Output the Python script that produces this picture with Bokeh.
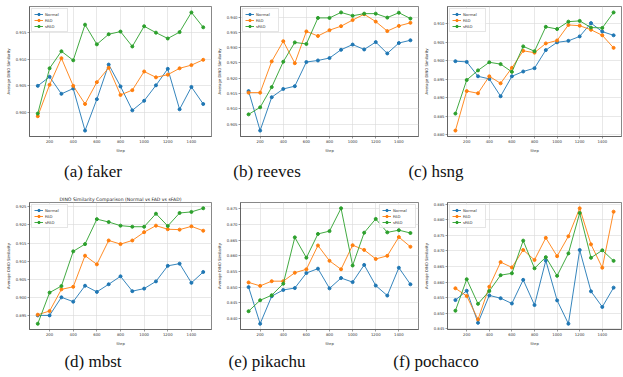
from bokeh.plotting import figure
from bokeh.layouts import column, row
from bokeh.models import Range1d, FixedTicker, SingleIntervalTicker, NumeralTickFormatter, Label
from bokeh.embed import file_html
from bokeh.resources import INLINE

steps = [100, 200, 300, 400, 500, 600, 700, 800, 900, 1000, 1100, 1200, 1300, 1400, 1500]
x_ticks = [200, 400, 600, 800, 1000, 1200, 1400]
series_names = ["Normal", "FAD", "sFAD"]
captions = ["(a) faker", "(b) reeves", "(c) hsng", "(d) mbst", "(e) pikachu", "(f) pochacco"]
title_d = "DINO Similarity Comparison (Normal vs FAD vs sFAD)"

faker_normal = [0.9050, 0.9067, 0.9035, 0.9045, 0.8966, 0.9025, 0.9090, 0.9049, 0.9004, 0.9022, 0.9051, 0.9082, 0.9006, 0.9048, 0.9016]
faker_fad = [0.8993, 0.9052, 0.9102, 0.9050, 0.9016, 0.9057, 0.9084, 0.9033, 0.9042, 0.9077, 0.9066, 0.9071, 0.9083, 0.9089, 0.9099]
faker_sfad = [0.8998, 0.9083, 0.9115, 0.9098, 0.9165, 0.9128, 0.9147, 0.9152, 0.9124, 0.9162, 0.9150, 0.9139, 0.9151, 0.9188, 0.9160]

reeves_normal = [0.9158, 0.9029, 0.9138, 0.9165, 0.9174, 0.9253, 0.9258, 0.9266, 0.9293, 0.9310, 0.9294, 0.9318, 0.9281, 0.9315, 0.9324]
reeves_fad = [0.9153, 0.9153, 0.9255, 0.9321, 0.9249, 0.9353, 0.9338, 0.9357, 0.9370, 0.9390, 0.9409, 0.9385, 0.9354, 0.9371, 0.9381]
reeves_sfad = [0.9082, 0.9105, 0.9171, 0.9254, 0.9317, 0.9312, 0.9397, 0.9397, 0.9415, 0.9404, 0.9411, 0.9411, 0.9398, 0.9414, 0.9395]

hsng_normal = [0.8999, 0.8997, 0.8958, 0.8951, 0.8904, 0.8958, 0.8971, 0.8980, 0.9029, 0.9050, 0.9054, 0.9066, 0.9102, 0.9079, 0.9069]
hsng_fad = [0.8811, 0.8918, 0.8912, 0.8958, 0.8939, 0.8981, 0.9027, 0.9022, 0.9047, 0.9055, 0.9097, 0.9095, 0.9084, 0.9069, 0.9035]
hsng_sfad = [0.8857, 0.8948, 0.8974, 0.8996, 0.8991, 0.8970, 0.9039, 0.9026, 0.9092, 0.9086, 0.9106, 0.9108, 0.9090, 0.9089, 0.9131]

mbst_normal = [0.8950, 0.8950, 0.9000, 0.8988, 0.9032, 0.9015, 0.9036, 0.9058, 0.9017, 0.9024, 0.9044, 0.9087, 0.9093, 0.9040, 0.9070]
mbst_fad = [0.8952, 0.8962, 0.9022, 0.9029, 0.9115, 0.9091, 0.9157, 0.9147, 0.9157, 0.9180, 0.9198, 0.9188, 0.9187, 0.9196, 0.9184]
mbst_sfad = [0.8927, 0.9013, 0.9031, 0.9127, 0.9147, 0.9216, 0.9208, 0.9198, 0.9195, 0.9195, 0.9231, 0.9197, 0.9233, 0.9236, 0.9246]

pikachu_normal = [0.8500, 0.8383, 0.8471, 0.8491, 0.8497, 0.8545, 0.8559, 0.8496, 0.8529, 0.8516, 0.8571, 0.8505, 0.8473, 0.8562, 0.8509]
pikachu_fad = [0.8515, 0.8504, 0.8519, 0.8519, 0.8546, 0.8557, 0.8633, 0.8584, 0.8557, 0.8634, 0.8619, 0.8590, 0.8600, 0.8660, 0.8629]
pikachu_sfad = [0.8423, 0.8458, 0.8474, 0.8511, 0.8659, 0.8594, 0.8670, 0.8679, 0.8752, 0.8569, 0.8674, 0.8718, 0.8675, 0.8682, 0.8673]

pochacco_normal = [0.8542, 0.8572, 0.8469, 0.8557, 0.8548, 0.8531, 0.8607, 0.8526, 0.8669, 0.8541, 0.8466, 0.8703, 0.8570, 0.8520, 0.8582]
pochacco_fad = [0.8580, 0.8555, 0.8480, 0.8585, 0.8664, 0.8647, 0.8703, 0.8671, 0.8742, 0.8683, 0.8747, 0.8837, 0.8721, 0.8646, 0.8826]
pochacco_sfad = [0.8508, 0.8609, 0.8530, 0.8571, 0.8622, 0.8628, 0.8733, 0.8644, 0.8680, 0.8620, 0.8692, 0.8822, 0.8678, 0.8702, 0.8668]

COLORS = ["#1f77b4", "#ff7f0e", "#2ca02c"]
FONT = "DejaVu Sans"
SMALL = "3.8px"


def make(series, width, height, left, right, top, bottom, legend_loc, title=None):
    allv = [v for s in series for v in s]
    lo, hi = min(allv), max(allv)
    span = hi - lo
    xlo, xhi = min(steps), max(steps)
    xspan = xhi - xlo
    p = figure(width=width, height=height, output_backend="svg", toolbar_location=None,
               x_range=Range1d(xlo - 0.05 * xspan, xhi + 0.05 * xspan),
               y_range=Range1d(lo - 0.05 * span, hi + 0.05 * span),
               min_border_left=left, min_border_right=right,
               min_border_top=top, min_border_bottom=bottom,
               title=title)
    if title:
        p.title.text_font = FONT
        p.title.text_font_size = "4.6px"
        p.title.text_font_style = "normal"
        p.title.align = "center"
        p.title.standoff = 2
        p.title.text_color = "#222222"
    p.background_fill_color = "white"
    p.border_fill_color = "white"
    p.outline_line_color = "#555555"
    p.outline_line_width = 0.7
    for name, vals, c in zip(series_names, series, COLORS):
        p.line(steps, vals, line_color=c, line_width=0.9, legend_label=name)
        p.scatter(steps, vals, marker="circle", size=3, fill_color=c, line_color=c, legend_label=name)
    p.xaxis.ticker = FixedTicker(ticks=x_ticks)
    p.yaxis.ticker = SingleIntervalTicker(interval=0.005, num_minor_ticks=0)
    p.yaxis.formatter = NumeralTickFormatter(format="0.000")
    p.xaxis.axis_label = "Step"
    p.yaxis.axis_label = "Average DINO Similarity"
    for ax in (p.xaxis[0], p.yaxis[0]):
        ax.major_label_text_font = FONT
        ax.major_label_text_font_size = SMALL
        ax.major_label_text_color = "#333333"
        ax.axis_label_text_font = FONT
        ax.axis_label_text_font_size = SMALL
        ax.axis_label_text_font_style = "normal"
        ax.axis_label_text_color = "#333333"
        ax.axis_label_standoff = 2
        ax.major_label_standoff = 1
        ax.major_tick_out = 2
        ax.major_tick_in = 0
        ax.minor_tick_out = 0
        ax.minor_tick_in = 0
        ax.axis_line_color = "#555555"
        ax.axis_line_width = 0.7
        ax.major_tick_line_color = "#555555"
        ax.major_tick_line_width = 0.6
    p.grid.grid_line_color = "#d9d9d9"
    p.grid.grid_line_width = 0.6
    lg = p.legend[0]
    lg.location = legend_loc
    lg.label_text_font = FONT
    lg.label_text_font_size = SMALL
    lg.label_text_color = "#333333"
    lg.label_height = 6
    lg.glyph_height = 6
    lg.glyph_width = 9
    lg.label_standoff = 2
    lg.spacing = 0
    lg.padding = 2
    lg.margin = 2
    lg.border_line_color = "#cccccc"
    lg.border_line_width = 0.6
    lg.background_fill_alpha = 0.85
    return p


def caption_strip(texts, height, y_from_bottom):
    c = figure(width=622, height=height, output_backend="svg", toolbar_location=None,
               x_range=Range1d(0, 1), y_range=Range1d(0, 1),
               min_border=0, min_border_left=0, min_border_right=0,
               min_border_top=0, min_border_bottom=0)
    c.axis.visible = False
    c.grid.visible = False
    c.outline_line_color = None
    c.background_fill_color = "white"
    c.border_fill_color = "white"
    for t, xc in zip(texts, [92.5, 266.5, 435.5]):
        c.add_layout(Label(x=xc, y=y_from_bottom, x_units="screen", y_units="screen",
                           text=t, text_font="Liberation Serif", text_font_size="17px",
                           text_align="center", text_baseline="middle", text_color="#111111"))
    return c


H1, H2 = 155, 155
pa = make([faker_normal, faker_fad, faker_sfad], 213, H1, 29, 2, 6, 16, "top_left")
pb = make([reeves_normal, reeves_fad, reeves_sfad], 207, H1, 24, 2, 6, 16, "top_left")
pc = make([hsng_normal, hsng_fad, hsng_sfad], 202, H1, 24, 1, 6, 16, "top_left")
pd = make([mbst_normal, mbst_fad, mbst_sfad], 213, H2, 29, 2, 8, 16, "top_left", title=title_d)
pe = make([pikachu_normal, pikachu_fad, pikachu_sfad], 207, H2, 24, 2, 8, 16, "top_right")
pf = make([pochacco_normal, pochacco_fad, pochacco_sfad], 202, H2, 24, 1, 8, 16, "top_left")

cap1 = caption_strip(captions[:3], 38, 22)
cap2 = caption_strip(captions[3:], 28, 15)

layout = column(row(pa, pb, pc, spacing=0), cap1,
                row(pd, pe, pf, spacing=0), cap2, spacing=0)

open("out.html", "w").write(file_html(layout, INLINE))
